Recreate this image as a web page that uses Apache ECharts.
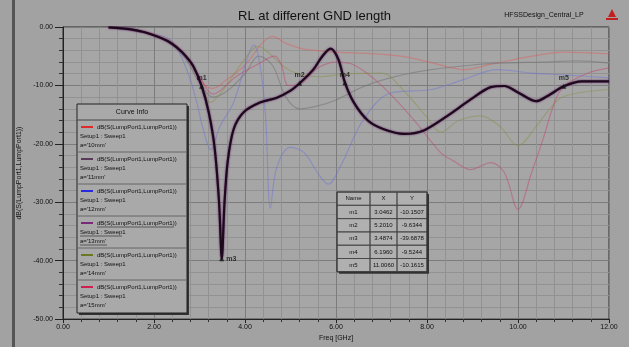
<!DOCTYPE html>
<html>
<head>
<meta charset="utf-8">
<script src="https://cdn.jsdelivr.net/npm/echarts@6/dist/echarts.min.js"></script>
<style>
  html, body { margin: 0; padding: 0; background: #a2a2a2; }
  #main { width: 629px; height: 347px; }
</style>
</head>
<body>
<div id="main"></div>
<script>
// traces: [freq GHz, dB]
var rlA10 = [[1,-0.05],[1.8,-0.8],[2.2,-1.8],[2.5,-3.2],[2.8,-6],[3.1,-9.8],[3.3,-10.5],[3.6,-9],[4.0,-6.5],[4.4,-2.6],[4.6,-1.6],[4.9,-2.8],[5.3,-3.8],[6.0,-4.3],[6.6,-4.5],[7.2,-4.8],[7.6,-5.2],[8.2,-6.3],[8.8,-7.3],[9.4,-6.4],[10.3,-5.0],[11,-4.3],[12,-4.6]];
var rlA11 = [[1,-0.05],[2,-1.5],[2.6,-4.5],[3.0,-9.5],[3.3,-12],[3.6,-11],[4.0,-8],[4.3,-5],[4.6,-6.5],[4.9,-12],[5.2,-14],[5.6,-13.5],[6.0,-12.5],[6.6,-10.2],[7.3,-8.5],[8.1,-7.3],[9.0,-6.5],[9.6,-6.2],[10.5,-6.0],[11.3,-5.8],[12,-6.2]];
var rlA12 = [[1,-0.05],[1.8,-1.0],[2.36,-2.2],[2.72,-7.3],[2.94,-12.9],[3.08,-17.5],[3.25,-21],[3.45,-17],[3.75,-12.9],[4.04,-5.6],[4.19,-3.1],[4.32,-6],[4.45,-15],[4.56,-31],[4.7,-24],[5.0,-20.6],[5.3,-21.5],[5.6,-25],[5.83,-26.9],[6.1,-23.8],[6.6,-15.9],[7.2,-11.3],[8.1,-10.7],[8.8,-9],[9.55,-7.3],[10.3,-7.9],[11,-8.2],[12,-8.7]];
var rlA13 = [[1.0,-0.05],[1.5,-0.4],[1.8,-0.9],[2.1,-1.7],[2.3,-2.4],[2.5,-3.5],[2.7,-5.0],[2.87,-6.8],[3.05,-10.15],[3.2,-14.5],[3.33,-20.5],[3.43,-30],[3.49,-39.69],[3.55,-30],[3.62,-23],[3.75,-17.5],[3.97,-14.6],[4.34,-12.9],[4.7,-12.1],[5.0,-10.9],[5.2,-9.63],[5.5,-7.3],[5.7,-5.0],[5.88,-3.7],[6.05,-5.5],[6.196,-9.52],[6.39,-12.9],[6.7,-16.0],[7.05,-17.5],[7.5,-18.3],[7.93,-17.7],[8.45,-15.2],[8.96,-12.4],[9.4,-10.3],[9.7,-10.1],[10.0,-11.2],[10.4,-12.7],[10.65,-11.8],[11.006,-10.16],[11.4,-9.3],[12,-9.3]];
var rlA14 = [[1,-0.05],[2,-1.3],[2.6,-4],[3.0,-9],[3.24,-12.9],[3.5,-11],[3.9,-6.5],[4.3,-3.3],[4.6,-5],[5.0,-7.5],[5.6,-8.5],[6.3,-8.0],[7.0,-7.9],[7.5,-11],[8.0,-15.5],[8.3,-18],[8.7,-16],[9.18,-15.2],[9.6,-17],[10.0,-20.3],[10.4,-17],[10.7,-14],[11,-11.9],[12,-10.7]];
var rlA15 = [[1,-0.05],[2,-1.4],[2.6,-4.2],[3.0,-8.5],[3.3,-11.5],[3.8,-8.5],[4.3,-6.3],[4.65,-5.0],[4.8,-6.5],[4.95,-10],[5.2,-9.8],[5.6,-7.0],[6.0,-6.0],[6.4,-6.5],[7.0,-10],[7.7,-15.8],[8.3,-21.5],[8.6,-23],[8.96,-24.4],[9.4,-23.2],[9.7,-24.9],[10.0,-31.2],[10.3,-24.9],[10.55,-19.2],[10.8,-13],[11,-10.2],[11.5,-8],[12,-7.0]];

var curveNames = ["a='10mm'", "a='11mm'", "a='12mm'", "a='13mm'", "a='14mm'", "a='15mm'"];
var curveColors = ['#e02a2a', '#5a3a5a', '#2a2ae0', '#7a2a7a', '#6b7a22', '#d02050'];

var markerNames = ['m1', 'm2', 'm3', 'm4', 'm5'];
var markerX = [3.0462, 5.2010, 3.4874, 6.1960, 11.0060];
var markerY = [-10.1507, -9.6344, -39.6878, -9.5244, -10.1615];

var xTicks = [0, 2, 4, 6, 8, 10, 12];
var yTicks = [0, -10, -20, -30, -40, -50];

var myChart = echarts.init(document.getElementById('main'));

var font = 'Liberation Sans';
var faint = function (data, color) {
    return {
        type: 'line', data: data, smooth: 0.35, symbol: 'none',
        lineStyle: { color: color, width: 1.2, opacity: 0.45 }, z: 2
    };
};

// legend box "Curve Info"
var legendItems = [];
var lx = 77, ly = 104, lw = 110, lh = 209;
legendItems.push({ type: 'rect', shape: { x: lx + 2, y: ly + 2, width: lw, height: lh },
    style: { fill: '#333' }, z: 10 });
legendItems.push({ type: 'rect', shape: { x: lx, y: ly, width: lw, height: lh },
    style: { fill: '#a9a9a9', stroke: '#222', lineWidth: 1 }, z: 11 });
legendItems.push({ type: 'text', x: lx + lw / 2, y: ly + 8,
    style: { text: 'Curve Info', font: '7px ' + font, fill: '#111', align: 'center', verticalAlign: 'middle' }, z: 12 });
legendItems.push({ type: 'line', shape: { x1: lx, y1: ly + 16, x2: lx + lw, y2: ly + 16 },
    style: { stroke: '#444', lineWidth: 1 }, z: 12 });
curveNames.forEach(function (n, i) {
    var top = ly + 17 + i * 32;
    legendItems.push({ type: 'line', shape: { x1: lx + 4, y1: top + 6, x2: lx + 16, y2: top + 6 },
        style: { stroke: curveColors[i], lineWidth: 2 }, z: 12 });
    legendItems.push({ type: 'text', x: lx + 20, y: top + 6,
        style: { text: 'dB(S(LumpPort1,LumpPort1))', font: '6px ' + font, fill: '#111', verticalAlign: 'middle' }, z: 12 });
    legendItems.push({ type: 'text', x: lx + 3, y: top + 15,
        style: { text: 'Setup1 : Sweep1', font: '6px ' + font, fill: '#111', verticalAlign: 'middle' }, z: 12 });
    legendItems.push({ type: 'text', x: lx + 3, y: top + 24,
        style: { text: n, font: '6px ' + font, fill: '#111', verticalAlign: 'middle' }, z: 12 });
    if (i === 3) {
        // selected trace is underlined in the legend
        [[6, 20, 97], [15, 3, 45], [24, 3, 30]].forEach(function (u) {
            legendItems.push({ type: 'line', shape: { x1: lx + u[1], y1: top + u[0] + 4, x2: lx + u[2], y2: top + u[0] + 4 },
                style: { stroke: '#222', lineWidth: 0.6 }, z: 12 });
        });
    }
    if (i > 0) {
        legendItems.push({ type: 'line', shape: { x1: lx, y1: top - 1, x2: lx + lw, y2: top - 1 },
            style: { stroke: '#666', lineWidth: 1 }, z: 12 });
    }
});

// marker table
var tableItems = [];
var tx = 337, ty = 192, colW = [33, 27, 30], rowH = 13.3;
var tW = colW[0] + colW[1] + colW[2], tH = rowH * 6;
tableItems.push({ type: 'rect', shape: { x: tx + 2, y: ty + 2, width: tW, height: tH }, style: { fill: '#333' }, z: 10 });
tableItems.push({ type: 'rect', shape: { x: tx, y: ty, width: tW, height: tH },
    style: { fill: '#b0b0b0', stroke: '#222', lineWidth: 1 }, z: 11 });
var rows = [['Name', 'X', 'Y']];
markerNames.forEach(function (n, i) {
    rows.push([n, markerX[i].toFixed(4), markerY[i].toFixed(4)]);
});
rows.forEach(function (r, ri) {
    var cx = tx;
    r.forEach(function (cell, ci) {
        tableItems.push({ type: 'rect', shape: { x: cx, y: ty + ri * rowH, width: colW[ci], height: rowH },
            style: { fill: 'none', stroke: '#444', lineWidth: 0.8 }, z: 12 });
        tableItems.push({ type: 'text', x: cx + colW[ci] / 2, y: ty + ri * rowH + rowH / 2,
            style: { text: cell, font: '6px ' + font, fill: '#111', align: 'center', verticalAlign: 'middle' }, z: 13 });
        cx += colW[ci];
    });
});

var option = {
    backgroundColor: '#a2a2a2',
    animation: false,
    title: {
        text: 'RL at different GND length',
        left: 'center', top: 5,
        textStyle: { fontFamily: font, fontSize: 13, fontWeight: 'normal', color: '#111' }
    },
    grid: {
        left: 63, right: 20, top: 27, bottom: 25,
        show: true, backgroundColor: '#a6a6a6', borderColor: '#2a2a2a', borderWidth: 1
    },
    xAxis: {
        type: 'value', min: 0, max: 12, interval: 2,
        name: 'Freq [GHz]', nameLocation: 'middle', nameGap: 13,
        nameTextStyle: { fontFamily: font, fontSize: 7, color: '#111' },
        axisLine: { onZero: false, lineStyle: { color: '#222' } },
        axisTick: { length: 4, lineStyle: { color: '#222' } },
        minorTick: { show: true, splitNumber: 5, length: 3, lineStyle: { color: '#333' } },
        axisLabel: { fontFamily: font, fontSize: 7, color: '#111', margin: 4,
            formatter: function (v) { return xTicks.indexOf(v) >= 0 ? v.toFixed(2) : ''; } },
        splitLine: { lineStyle: { color: '#7c7c7c', width: 1 } },
        minorSplitLine: { show: true, lineStyle: { color: '#929292', width: 1 } }
    },
    yAxis: {
        type: 'value', min: -50, max: 0, interval: 10,
        name: 'dB(S(LumpPort1,LumpPort1))', nameLocation: 'middle', nameGap: 33,
        nameTextStyle: { fontFamily: font, fontSize: 7, color: '#111' },
        axisLine: { show: true, lineStyle: { color: '#222' } },
        axisTick: { show: true, length: 8, lineStyle: { color: '#222' } },
        minorTick: { show: true, splitNumber: 5, length: 4, lineStyle: { color: '#333' } },
        axisLabel: { fontFamily: font, fontSize: 7, color: '#111', margin: 10,
            formatter: function (v) { return yTicks.indexOf(v) >= 0 ? v.toFixed(2) : ''; } },
        splitLine: { lineStyle: { color: '#7c7c7c', width: 1 } },
        minorSplitLine: { show: true, lineStyle: { color: '#929292', width: 1 } }
    },
    series: [
        faint(rlA10, '#e05a5a'),
        faint(rlA11, '#6a6a6a'),
        faint(rlA12, '#6a70d8'),
        faint(rlA14, '#8a9040'),
        faint(rlA15, '#c04070'),
        {
            type: 'line', data: rlA13, smooth: 0.3, symbol: 'none', z: 5,
            lineStyle: { color: '#1c0a1c', width: 2.2, shadowColor: '#6a1f6a', shadowBlur: 2 }
        },
        {
            type: 'scatter', z: 6, symbol: 'triangle', symbolSize: 5,
            itemStyle: { color: '#111' },
            data: markerNames.map(function (n, i) {
                var d = { name: n, value: [markerX[i], markerY[i]] };
                if (n === 'm3') d.label = { position: 'right' };
                return d;
            }),
            label: {
                show: true, formatter: '{b}', position: 'top', distance: 2,
                fontFamily: font, fontSize: 7, fontWeight: 'bold', color: '#111'
            }
        }
    ],
    graphic: [
        { type: 'rect', shape: { x: 12, y: 0, width: 3, height: 347 }, style: { fill: '#555' }, z: 1 },
        { type: 'text', x: 544, y: 15,
            style: { text: 'HFSSDesign_Central_LP', font: '7px ' + font, fill: '#111', align: 'center', verticalAlign: 'middle' }, z: 3 },
        { type: 'polygon', shape: { points: [[612, 9], [608, 17], [616, 17]] }, style: { fill: '#c02020' }, z: 3 },
        { type: 'rect', shape: { x: 606, y: 18, width: 12, height: 2 }, style: { fill: '#c02020' }, z: 3 },
        { type: 'group', children: legendItems },
        { type: 'group', children: tableItems }
    ]
};

myChart.setOption(option);
</script>
</body>
</html>
